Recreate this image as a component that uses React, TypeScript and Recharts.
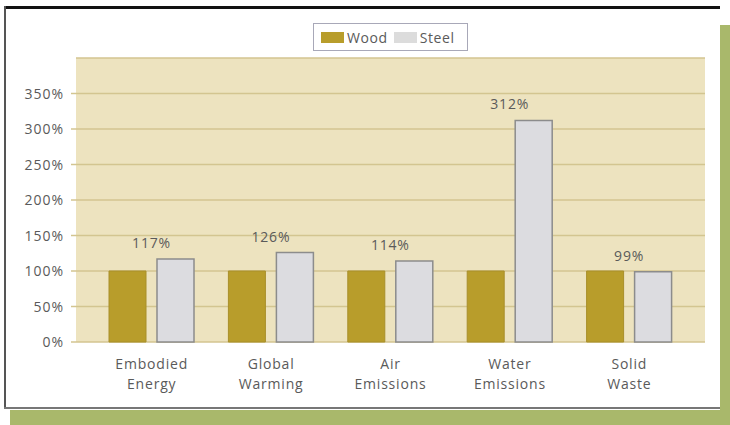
import React from "react";
import { BarChart, Bar, XAxis, YAxis, CartesianGrid, Legend, LabelList } from "recharts";

const categories = ["Embodied\nEnergy", "Global\nWarming", "Air\nEmissions", "Water\nEmissions", "Solid\nWaste"];
const woodValues = [100, 100, 100, 100, 100];
const steelValues = [117, 126, 114, 312, 99];
const yTicks = [0, 50, 100, 150, 200, 250, 300, 350];
const legendOrder = ["Wood", "Steel"];

const data = categories.map((c, i) => ({ name: c, Wood: woodValues[i], Steel: steelValues[i] }));

const FONT = "'Open Sans', 'Noto Sans', sans-serif";
const TEXT = "#5a5a5a";
const WOOD = "#b89d2b";
const STEEL = "#dcdce0";
const STEEL_STROKE = "#8c8c8c";

const XTick = (props: any) => {
  const { x, y, payload } = props;
  const lines = String(payload.value).split("\n");
  return (
    <g>
      {lines.map((l: string, i: number) => (
        <text key={i} x={x} y={y + 19 + i * 20} textAnchor="middle" fill={TEXT} fontSize={14} letterSpacing={0.8} fontFamily={FONT}>
          {l}
        </text>
      ))}
    </g>
  );
};

const YTick = (props: any) => {
  const { x, y, payload } = props;
  return (
    <text x={x} y={y + 5} textAnchor="end" fill={TEXT} fontSize={14} letterSpacing={1} fontFamily={FONT}>
      {payload.value}%
    </text>
  );
};

const SteelLabel = (props: any) => {
  const { x, y, value } = props;
  return (
    <text x={x - 5.5} y={y - 11} textAnchor="middle" fill={TEXT} fontSize={14} letterSpacing={0.8} fontFamily={FONT}>
      {value}%
    </text>
  );
};

const LegendBox = (props: any) => {
  const items = [...(props.payload || [])].sort(
    (a: any, b: any) => legendOrder.indexOf(a.value) - legendOrder.indexOf(b.value)
  );
  return (
    <div style={{ border: "1px solid #a8a8b8", height: 28, width: 155, background: "#fff", display: "flex", alignItems: "center", paddingLeft: 7, boxSizing: "border-box", fontFamily: FONT, fontSize: 14, letterSpacing: 0.6, color: TEXT }}>
      {items.map((it: any, i: number) => (
        <div key={i} style={{ display: "flex", alignItems: "center", marginRight: 6 }}>
          <div style={{ width: 23, height: 11, background: it.value === "Wood" ? WOOD : "#dcdcdc" }} />
          <span style={{ marginLeft: 3 }}>{it.value}</span>
        </div>
      ))}
    </div>
  );
};

export default function App() {
  return (
    <div style={{ position: "absolute", left: 0, top: 0, width: 730, height: 425, background: "#fff", overflow: "hidden" }}>
      <div style={{ position: "absolute", left: 720, top: 25, width: 10, height: 400, background: "#a9b86b" }} />
      <div style={{ position: "absolute", left: 10, top: 410, width: 720, height: 15, background: "#a9b86b" }} />
      <div style={{ position: "absolute", left: 4, top: 6, width: 716, height: 3, background: "#111" }} />
      <div style={{ position: "absolute", left: 4, top: 6, width: 2, height: 403, background: "#555" }} />
      <div style={{ position: "absolute", left: 4, top: 407, width: 716, height: 2, background: "#777" }} />
      <div style={{ position: "absolute", left: 0, top: 0 }}>
        <BarChart
          width={730}
          height={425}
          data={data}
          margin={{ top: 30, right: 25, left: 0, bottom: 33 }}
          barSize={37}
          barGap={11}
        >
          <CartesianGrid vertical={false} stroke="#d3c590" fill="#ede3bf" strokeWidth={1.5} />
          <XAxis
            dataKey="name"
            axisLine={false}
            tickLine={false}
            height={50}
            tick={<XTick />}
            interval={0}
            padding={{ left: 16, right: 16 }}
          />
          <YAxis
            domain={[0, 400]}
            ticks={yTicks}
            width={76}
            axisLine={false}
            tickLine={{ stroke: "#d3c590", strokeWidth: 1.5 }}
            tickSize={5}
            tickMargin={7}
            tick={<YTick />}
          />
          <Legend
            verticalAlign="top"
            content={<LegendBox />}
            wrapperStyle={{ top: 23, left: 313, width: 155, height: 28 }}
          />
          <Bar dataKey="Wood" fill={WOOD} stroke="#a88f2a" strokeWidth={1} isAnimationActive={false} />
          <Bar dataKey="Steel" fill={STEEL} stroke={STEEL_STROKE} strokeWidth={1.5} isAnimationActive={false}>
            <LabelList dataKey="Steel" content={<SteelLabel />} />
          </Bar>
        </BarChart>
      </div>
    </div>
  );
}
